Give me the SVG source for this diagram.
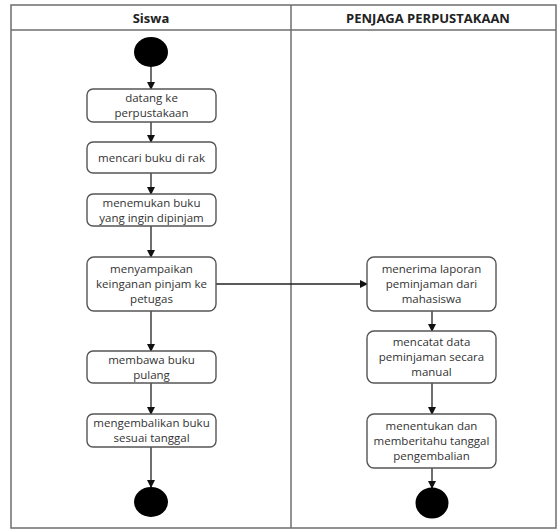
<svg xmlns="http://www.w3.org/2000/svg" width="558" height="530" viewBox="0 0 558 530">
<style>
.lane{fill:none;stroke:#6e6e6e;stroke-width:1.5}
.hd{font-family:"Open Sans","DejaVu Sans",sans-serif;font-size:13px;font-weight:bold;fill:#222;text-anchor:middle}
.box{fill:#fff;stroke:#555;stroke-width:1.4}
.t{font-family:"Open Sans","DejaVu Sans",sans-serif;font-size:11.5px;fill:#333;text-anchor:middle}
.c{fill:none;stroke:#222;stroke-width:1.3;marker-end:url(#ah)}
.dot{fill:#000}
</style>
<defs>
<marker id="ah" markerWidth="10" markerHeight="10" refX="8" refY="5" orient="auto" markerUnits="userSpaceOnUse">
<path d="M1,1 L9,5 L1,9 Z" fill="#111"/>
</marker>
</defs>
<rect x="0" y="0" width="558" height="530" fill="#fff"/>
<g id="lanes">
<rect class="lane" x="11" y="5" width="545" height="523"/>
<line class="lane" x1="11" y1="30" x2="556" y2="30"/>
<line class="lane" x1="291" y1="5" x2="291" y2="528"/>
<text class="hd" x="151" y="22.5">Siswa</text>
<text class="hd" x="428" y="22.5">PENJAGA PERPUSTAKAAN</text>
</g>
<g id="connectors">
<line class="c" x1="151" y1="67" x2="151" y2="89"/>
<line class="c" x1="151" y1="122" x2="151" y2="142"/>
<line class="c" x1="151" y1="173" x2="151" y2="194"/>
<line class="c" x1="151" y1="226" x2="151" y2="257"/>
<line class="c" x1="151" y1="311" x2="151" y2="351"/>
<line class="c" x1="151" y1="383" x2="151" y2="414"/>
<line class="c" x1="151" y1="447" x2="151" y2="487"/>
<line class="c" x1="216" y1="284" x2="367" y2="284"/>
<line class="c" x1="432" y1="311" x2="432" y2="331"/>
<line class="c" x1="432" y1="383" x2="432" y2="414"/>
<line class="c" x1="432" y1="468" x2="432" y2="488"/>
</g>
<g id="start"><ellipse class="dot" cx="151" cy="52" rx="17" ry="15"/></g>
<g id="n1"><rect class="box" x="87" y="89" width="129" height="33" rx="6"/>
<text class="t" x="151.5" y="102">datang ke</text><text class="t" x="151.5" y="117">perpustakaan</text></g>
<g id="n2"><rect class="box" x="87" y="142" width="129" height="31" rx="6"/>
<text class="t" x="151.5" y="161.5">mencari buku di rak</text></g>
<g id="n3"><rect class="box" x="87" y="194" width="129" height="32" rx="6"/>
<text class="t" x="151.5" y="206.5">menemukan buku</text><text class="t" x="151.5" y="221.5">yang ingin dipinjam</text></g>
<g id="n4"><rect class="box" x="87" y="257" width="129" height="54" rx="7"/>
<text class="t" x="151.5" y="273">menyampaikan</text><text class="t" x="151.5" y="288">keinganan pinjam ke</text><text class="t" x="151.5" y="303">petugas</text></g>
<g id="n5"><rect class="box" x="87" y="351" width="129" height="32" rx="6"/>
<text class="t" x="151.5" y="363.5">membawa buku</text><text class="t" x="151.5" y="378.5">pulang</text></g>
<g id="n6"><rect class="box" x="87" y="414" width="129" height="33" rx="6"/>
<text class="t" x="151.5" y="427">mengembalikan buku</text><text class="t" x="151.5" y="442">sesuai tanggal</text></g>
<g id="end1"><ellipse class="dot" cx="151" cy="502" rx="17" ry="15"/></g>
<g id="r1"><rect class="box" x="367" y="257" width="129" height="54" rx="7"/>
<text class="t" x="431.5" y="273">menerima laporan</text><text class="t" x="431.5" y="288">peminjaman dari</text><text class="t" x="431.5" y="303">mahasiswa</text></g>
<g id="r2"><rect class="box" x="367" y="331" width="129" height="52" rx="7"/>
<text class="t" x="431.5" y="346">mencatat data</text><text class="t" x="431.5" y="361">peminjaman secara</text><text class="t" x="431.5" y="376">manual</text></g>
<g id="r3"><rect class="box" x="367" y="414" width="129" height="54" rx="7"/>
<text class="t" x="431.5" y="430">menentukan dan</text><text class="t" x="431.5" y="445">memberitahu tanggal</text><text class="t" x="431.5" y="460">pengembalian</text></g>
<g id="end2"><ellipse class="dot" cx="432" cy="503" rx="16.5" ry="15.5"/></g>
</svg>
